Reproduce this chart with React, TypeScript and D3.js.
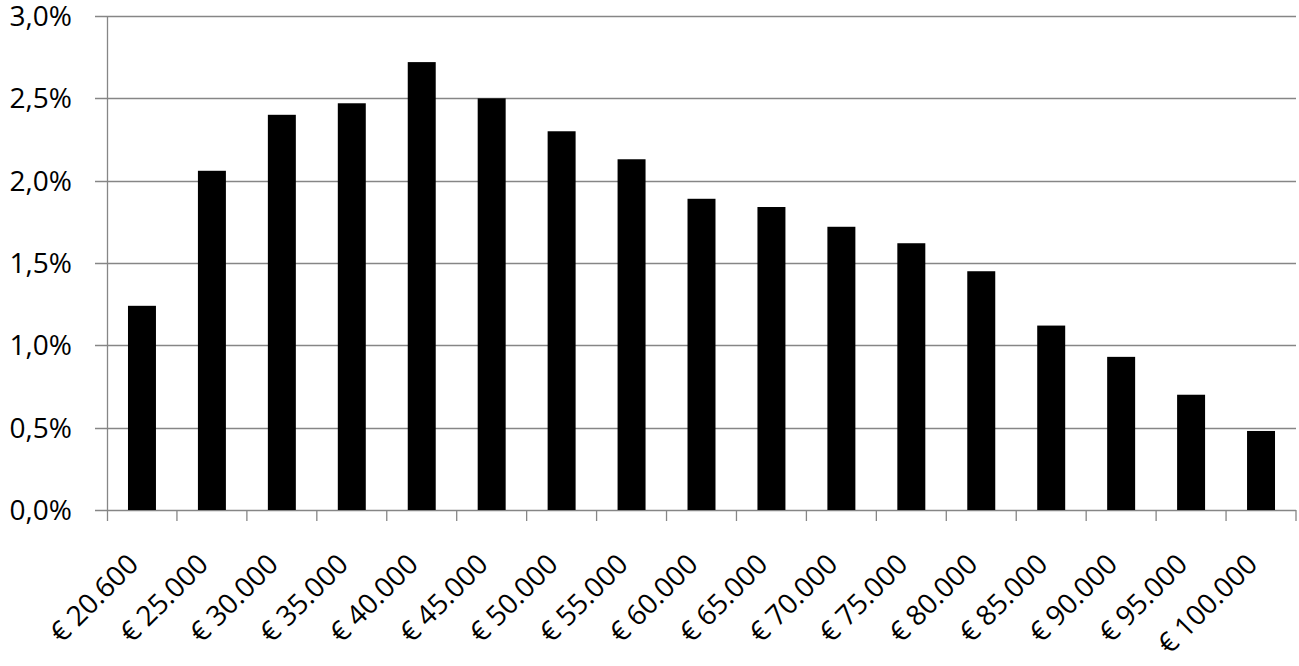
import * as d3 from 'd3';
import React from "react";

const categories = ["€ 20.600", "€ 25.000", "€ 30.000", "€ 35.000", "€ 40.000", "€ 45.000", "€ 50.000", "€ 55.000", "€ 60.000", "€ 65.000", "€ 70.000", "€ 75.000", "€ 80.000", "€ 85.000", "€ 90.000", "€ 95.000", "€ 100.000"];
const values = [1.24, 2.06, 2.40, 2.47, 2.72, 2.50, 2.30, 2.13, 1.89, 1.84, 1.72, 1.62, 1.45, 1.12, 0.93, 0.70, 0.48];
const yTicks = [0, 0.5, 1.0, 1.5, 2.0, 2.5, 3.0];

const W = 1299, H = 666;
const m = { top: 16, right: 3, bottom: 156, left: 107 };

export default function App() {
	const x = d3.scaleBand<string>().domain(categories).range([m.left, W - m.right]).paddingInner(0.6).paddingOuter(0.3);
	const y = d3.scaleLinear().domain([0, 3]).range([H - m.bottom, m.top]);
	const step = x.step();
	const x0 = m.left, x1 = W - m.right;
	const fmt = (v: number) => v.toFixed(1).replace('.', ',') + '%';
	const font = "Open Sans, Calibri, sans-serif";

	return (
		<svg width={W} height={H} style={{ position: 'absolute', left: 0, top: 0, background: '#fff' }} fontFamily={font}>
			{yTicks.map(t => (
				<g key={t}>
					<line x1={x0 - 12} x2={x1} y1={Math.round(y(t)) + 0.5} y2={Math.round(y(t)) + 0.5} stroke="#868686" strokeWidth={1.3} />
					<text x={72} y={y(t)} dy="0.36em" textAnchor="end" fontSize={28} fill="#000">{fmt(t)}</text>
				</g>
			))}
			<line x1={x0 + 0.5} x2={x0 + 0.5} y1={y(3)} y2={y(0) + 11} stroke="#868686" strokeWidth={1.3} />
			{categories.map((c, i) => (
				<line key={c} x1={x0 + step * (i + 1)} x2={x0 + step * (i + 1)} y1={y(0)} y2={y(0) + 11} stroke="#868686" strokeWidth={1.3} />
			))}
			{categories.map((c, i) => (
				<rect key={c} x={x(c)} y={y(values[i])} width={x.bandwidth()} height={y(0) - y(values[i])} fill="#000" />
			))}
			{categories.map(c => {
				const cx = (x(c) ?? 0) + x.bandwidth() / 2 - 2;
				const cy = y(0) + 56;
				return (
					<text key={c} transform={`translate(${cx},${cy}) rotate(-45)`} textAnchor="end" fontSize={28} fill="#000">{c}</text>
				);
			})}
		</svg>
	);
}
